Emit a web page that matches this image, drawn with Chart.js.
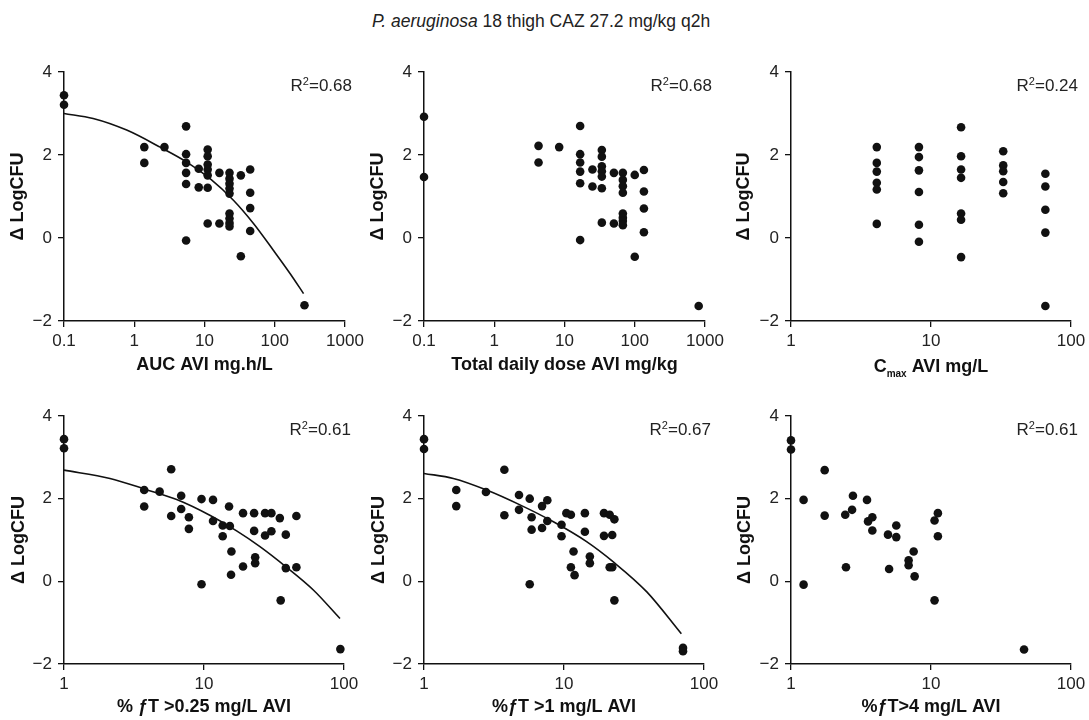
<!DOCTYPE html>
<html><head><meta charset="utf-8">
<script src="https://cdn.jsdelivr.net/npm/chart.js@4.4.0/dist/chart.umd.min.js"></script>
<style>
html,body{margin:0;padding:0;background:#fff;width:1089px;height:720px;overflow:hidden;position:relative;}
canvas{position:absolute;}
#title{position:absolute;left:0;width:1082px;top:11px;text-align:center;font:17.5px "Liberation Sans",Arial,Helvetica,sans-serif;color:#222;white-space:nowrap;}
</style></head><body>
<div id="title"><i>P. aeruginosa</i> 18 thigh CAZ 27.2 mg/kg q2h</div>
<canvas id="c1"></canvas><canvas id="c2"></canvas><canvas id="c3"></canvas>
<canvas id="c4"></canvas><canvas id="c5"></canvas><canvas id="c6"></canvas>
<script>
// ---------- DATA ----------
const yTicks = [-2, 0, 2, 4];
const xTicksWide = [0.1, 1, 10, 100, 1000];
const xTicksPct = [1, 10, 100];

// Panel 1: AUC AVI
const aucX = [0.1,0.1,1.39,1.39,2.69,5.47,5.47,5.47,5.47,5.47,5.47,8.28,8.28,11.1,11.1,11.1,11.1,11.1,11.1,11.1,16.3,16.3,22.7,22.7,22.7,22.7,22.7,22.7,22.7,22.7,22.7,32.9,32.9,44.7,44.7,44.7,44.7,265];
const aucY = [3.44,3.21,2.19,1.81,2.19,2.69,2.02,1.81,1.57,1.30,-0.06,1.67,1.22,2.13,1.97,1.77,1.65,1.51,1.21,0.35,1.57,0.35,1.57,1.43,1.31,1.19,1.07,0.59,0.47,0.36,0.28,1.51,-0.44,1.65,1.09,0.72,0.17,-1.62];
const aucFitX = [0.1,0.26,0.78,2.33,5.6,12.0,25.8,49.8,96,166,257];
const aucFitY = [3.0,2.88,2.60,2.19,1.83,1.43,0.91,0.35,-0.30,-0.86,-1.34];

// Panel 2: Total daily dose AVI
const doseX = [0.1,0.1,4.27,4.27,8.4,16.7,16.7,16.7,16.7,16.7,16.7,25,25,34,34,34,34,34,34,34,50.5,50.5,67.7,67.7,67.7,67.7,67.7,67.7,67.7,67.7,100,100,135,135,135,135,813];
const doseY = [2.92,1.47,2.22,1.82,2.19,2.70,2.02,1.82,1.60,1.32,-0.05,1.65,1.24,2.12,1.96,1.73,1.61,1.48,1.20,0.37,1.57,0.35,1.57,1.40,1.25,1.09,0.59,0.49,0.41,0.31,1.52,-0.45,1.64,1.12,0.71,0.14,-1.64];

// Panel 3: Cmax AVI
const cmaxX = [4.1,4.1,4.1,4.1,4.1,4.1,8.2,8.2,8.2,8.2,8.2,8.2,16.4,16.4,16.4,16.4,16.4,16.4,16.4,32.8,32.8,32.8,32.8,32.8,65.6,65.6,65.6,65.6,65.6];
const cmaxY = [2.19,1.81,1.60,1.33,1.17,0.34,2.19,1.95,1.63,1.11,0.32,-0.09,2.67,1.97,1.65,1.45,0.59,0.44,-0.46,2.09,1.75,1.61,1.35,1.08,1.55,1.24,0.68,0.13,-1.64];

// Panel 4: %fT > 0.25 mg/L
const ft025X = [1,1,3.74,3.74,4.82,5.83,5.83,6.87,6.87,7.8,7.8,9.6,9.6,11.6,11.6,13.6,13.6,15.3,15.1,15.7,15.6,19.0,19.0,22.8,22.8,23.2,23.2,27.3,27.3,30.3,30.3,34.8,35.3,38.4,38.4,45.7,45.7,94.2];
const ft025Y = [3.44,3.22,2.21,1.81,2.17,2.71,1.58,2.07,1.75,1.55,1.27,1.99,-0.07,1.97,1.46,1.35,1.09,1.34,1.81,0.72,0.16,1.65,0.36,1.65,1.22,0.58,0.44,1.65,1.11,1.65,1.21,1.53,-0.46,1.13,0.32,1.58,0.34,-1.64];
const ft025FitX = [1,2.13,3.79,6.38,11.0,17.1,25.1,38.9,60.4,93.6];
const ft025FitY = [2.69,2.49,2.23,1.98,1.60,1.22,0.84,0.34,-0.21,-0.90];

// Panel 5: %fT > 1 mg/L
const ft1X = [1,1,1.70,1.70,2.77,3.75,3.75,4.77,4.77,5.69,5.69,5.87,5.87,6.97,6.97,7.6,7.6,9.6,9.6,10.4,11.2,11.2,11.7,11.9,14.1,14.1,15.3,15.3,19.3,19.3,21.2,21.2,22.1,22.1,22.9,22.9,70.8,70.8];
const ft1Y = [3.44,3.20,2.21,1.82,2.16,2.70,1.60,2.09,1.73,2.00,-0.07,1.55,1.25,1.82,1.29,1.46,1.96,1.37,1.09,1.65,1.61,0.34,0.72,0.15,1.65,1.20,0.60,0.44,1.65,1.10,1.61,0.34,1.12,0.34,1.50,-0.46,-1.61,-1.69];
const ft1FitX = [1,1.62,2.8,4.85,8.4,14.5,22.5,38.9,68.9];
const ft1FitY = [2.61,2.49,2.21,1.85,1.44,0.96,0.47,-0.25,-1.27];

// Panel 6: %fT > 4 mg/L
const ft4X = [1,1,1.23,1.23,1.74,1.74,2.44,2.47,2.73,2.77,3.49,3.55,3.81,3.81,4.93,5.02,5.65,5.65,6.92,6.92,7.52,7.64,10.6,10.6,11.2,11.2,46.2];
const ft4Y = [3.41,3.19,1.97,-0.08,2.69,1.59,1.61,0.34,1.73,2.07,1.97,1.45,1.55,1.23,1.13,0.30,1.35,1.07,0.51,0.39,0.72,0.12,-0.46,1.47,1.65,1.09,-1.65];

const r2Labels = ['0.68','0.68','0.24','0.61','0.67','0.61'];
const xTitles = ['AUC AVI mg.h/L','Total daily dose AVI mg/kg','C|max| AVI mg/L','% \u0192T >0.25 mg/L AVI','%\u0192T >1 mg/L AVI','%\u0192T>4 mg/L AVI'];
const yTitle = '\u0394 LogCFU';

// ---------- LAYOUT ----------
const FONT = '"Liberation Sans", Arial, Helvetica, sans-serif';
const panels = [
  {id:'c1', left:0,   top:40,  w:380, h:340, L:64,  R:345,  T:72,  B:321, xs:aucX, ys:aucY, cx:aucFitX, cy:aucFitY, xmin:0.1, xmax:1000, xt:xTicksWide, ytPad:7,  xtPad:4},
  {id:'c2', left:360, top:40,  w:380, h:340, L:424, R:705,  T:72,  B:321, xs:doseX, ys:doseY, xmin:0.1, xmax:1000, xt:xTicksWide, ytPad:7, xtPad:4},
  {id:'c3', left:720, top:40,  w:369, h:340, L:791, R:1071, T:72,  B:321, xs:cmaxX, ys:cmaxY, xmin:1, xmax:100, xt:xTicksPct, ytPad:13, xtPad:4},
  {id:'c4', left:0,   top:385, w:370, h:333, L:64,  R:344,  T:416, B:664, xs:ft025X, ys:ft025Y, cx:ft025FitX, cy:ft025FitY, xmin:1, xmax:100, xt:xTicksPct, ytPad:8, xtPad:0},
  {id:'c5', left:360, top:385, w:370, h:333, L:424, R:704,  T:416, B:664, xs:ft1X, ys:ft1Y, cx:ft1FitX, cy:ft1FitY, xmin:1, xmax:100, xt:xTicksPct, ytPad:8, xtPad:0},
  {id:'c6', left:720, top:385, w:369, h:333, L:791, R:1071, T:416, B:664, xs:ft4X, ys:ft4Y, xmin:1, xmax:100, xt:xTicksPct, ytPad:14, xtPad:0}
];

const annotPlugin = {
  id:'annot',
  afterDraw(chart, args, opts) {
    const ctx = chart.ctx, a = chart.chartArea;
    ctx.save();
    ctx.fillStyle = '#222';
    ctx.textBaseline = 'alphabetic';
    const big = '17px ' + FONT, small = '11px ' + FONT;
    ctx.font = big; const w1 = ctx.measureText('R').width; const w3 = ctx.measureText('=' + opts.r2).width;
    ctx.font = small; const w2 = ctx.measureText('2').width;
    let x = a.right + 7 - (w1 + w2 + w3), y = a.top + 19;
    ctx.textAlign = 'left';
    ctx.font = big; ctx.fillText('R', x, y); x += w1;
    ctx.font = small; ctx.fillText('2', x, y - 6); x += w2;
    ctx.font = big; ctx.fillText('=' + opts.r2, x, y);
    if (opts.custom) {
      const parts = opts.custom.split('|');
      const bf = 'bold 18px ' + FONT, sf = 'bold 10px ' + FONT;
      ctx.font = bf; const p0 = ctx.measureText(parts[0]).width, p2 = ctx.measureText(parts[2]).width;
      ctx.font = sf; const p1 = ctx.measureText(parts[1]).width;
      let cx = (a.left + a.right) / 2 - (p0 + p1 + p2) / 2; const cy = a.bottom + 51;
      ctx.fillStyle = '#111';
      ctx.font = bf; ctx.fillText(parts[0], cx, cy); cx += p0;
      ctx.font = sf; ctx.fillText(parts[1], cx, cy + 5); cx += p1;
      ctx.font = bf; ctx.fillText(parts[2], cx, cy);
    }
    ctx.restore();
  }
};

panels.forEach((p, i) => {
  const cv = document.getElementById(p.id);
  cv.style.left = p.left + 'px'; cv.style.top = p.top + 'px';
  cv.style.width = p.w + 'px'; cv.style.height = p.h + 'px';
  cv.width = p.w; cv.height = p.h;
  const datasets = [{
    data: p.xs.map((x, k) => ({x: x, y: p.ys[k]})),
    backgroundColor: '#111', borderColor: '#111', borderWidth: 0,
    pointRadius: 4.3, pointHoverRadius: 4.3, clip: false, order: 1
  }];
  if (p.cx) {
    datasets.push({
      data: p.cx.map((x, k) => ({x: x, y: p.cy[k]})),
      showLine: true, borderColor: '#111', borderWidth: 1.6, pointRadius: 0, pointHoverRadius: 0,
      fill: false, cubicInterpolationMode: 'monotone', clip: false, order: 0
    });
  }
  const isCustom = xTitles[i].indexOf('|') >= 0;
  new Chart(cv, {
    type: 'scatter',
    data: {datasets},
    options: {
      responsive: false, animation: false,
      events: [],
      layout: {autoPadding: false, padding: {left: 0, top: p.T - p.top, right: p.left + p.w - p.R, bottom: 0}},
      plugins: {legend: {display: false}, tooltip: {enabled: false},
        annot: {r2: r2Labels[i], custom: isCustom ? xTitles[i] : null}},
      scales: {
        x: {
          type: 'logarithmic', min: p.xmin, max: p.xmax,
          afterBuildTicks: s => { s.ticks = p.xt.map(v => ({value: v})); },
          afterFit: s => { s.height = p.top + p.h - p.B; s.paddingLeft = 0; s.paddingRight = 0; },
          ticks: {callback: v => String(v), font: {family: FONT, size: 17}, color: '#222', padding: 4, maxRotation: 0, autoSkip: false},
          grid: {drawOnChartArea: false, drawTicks: true, tickLength: 6, color: '#111', lineWidth: 1.3},
          border: {display: true, color: '#111', width: 1.5},
          title: {display: !isCustom, text: xTitles[i], color: '#111', font: {family: FONT, size: 18, weight: 'bold'}, padding: {top: 0, bottom: p.xtPad}}
        },
        y: {
          min: -2, max: 4,
          afterBuildTicks: s => { s.ticks = yTicks.map(v => ({value: v})); },
          afterFit: s => { s.width = p.L - p.left; s.paddingTop = 0; s.paddingBottom = 0; },
          ticks: {callback: v => (v < 0 ? '\u2212' + Math.abs(v) : String(v)), font: {family: FONT, size: 17}, color: '#222', padding: 6},
          grid: {drawOnChartArea: false, drawTicks: true, tickLength: 6, color: '#111', lineWidth: 1.3},
          border: {display: true, color: '#111', width: 1.5},
          title: {display: true, text: yTitle, color: '#111', font: {family: FONT, size: 18, weight: 'bold'}, padding: {top: p.ytPad, bottom: 0}}
        }
      }
    },
    plugins: [annotPlugin]
  });
});
</script>
</body></html>
